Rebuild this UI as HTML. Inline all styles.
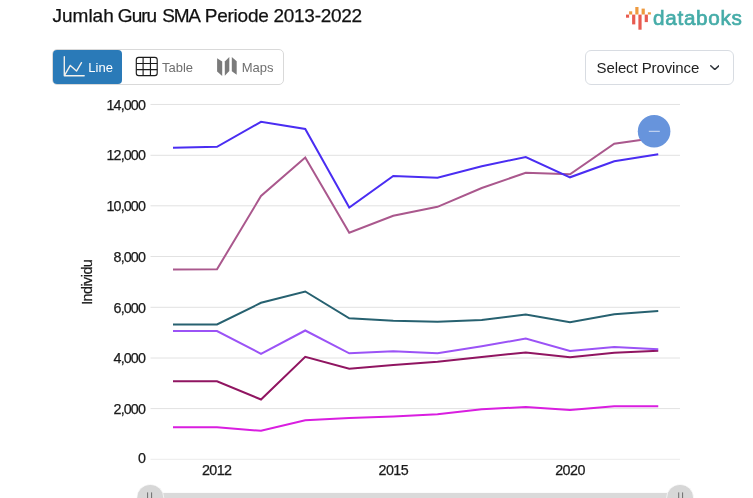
<!DOCTYPE html>
<html>
<head>
<meta charset="utf-8">
<title>Jumlah Guru SMA Periode 2013-2022</title>
<style>
  html, body { margin: 0; padding: 0; background: #ffffff; }
  body { width: 753px; height: 498px; overflow: hidden; position: relative;
         font-family: "Liberation Sans", sans-serif; color: #111; }
  #wrap { position: absolute; left: 0; top: 0; width: 753px; height: 498px; will-change: transform; }
  .title { position: absolute; left: 52px; top: 5px; font-size: 19px; color: #111; white-space: nowrap; }
  .title span { position: absolute; top: 0; -webkit-text-stroke: 0.25px #111; }
  .logo { position: absolute; left: 620px; top: 0; width: 133px; height: 35px; }
  .tabs { position: absolute; left: 52px; top: 49px; width: 230px; height: 34px;
          border: 1px solid #d9d9d9; border-radius: 5px; background: #fff; }
  .tab { position: absolute; top: 0; height: 34px; font-size: 13px; line-height: 34px; color: #6f6f6f; white-space: nowrap; }
  .tab.active { left: 0; width: 69px; background: #2a7ab8; border-radius: 4px; color: #fff; }
  .tab svg { position: absolute; }
  .tab span { position: absolute; top: 1px; }
  .select { position: absolute; left: 585px; top: 50px; width: 147px; height: 33px;
            border: 1px solid #d8dce2; border-radius: 6px; background: #fff; }
  .select span { position: absolute; left: 10.5px; letter-spacing: -0.1px; top: 0; line-height: 34px; font-size: 15px; color: #222; white-space: nowrap; }
  .select svg { position: absolute; left: 123.6px; top: 14px; }
  .chart { position: absolute; left: 0; top: 0; width: 753px; height: 498px; }
  .chart text { font-family: "Liberation Sans", sans-serif; font-size: 14.3px; fill: #1a1a1a; stroke: #1a1a1a; stroke-width: 0.25px; }
</style>
</head>
<body>
<div id="wrap">

<svg class="chart" width="753" height="498" viewBox="0 0 753 498">
  <!-- grid lines -->
  <g stroke="#e2e2e2" stroke-width="1" fill="none">
    <line x1="150.5" x2="680" y1="104.45" y2="104.45"/>
    <line x1="150.5" x2="680" y1="155.3" y2="155.3"/>
    <line x1="150.5" x2="680" y1="205.8" y2="205.8"/>
    <line x1="150.5" x2="680" y1="256.5" y2="256.5"/>
    <line x1="150.5" x2="680" y1="307.3" y2="307.3"/>
    <line x1="150.5" x2="680" y1="358.0" y2="358.0"/>
    <line x1="150.5" x2="680" y1="408.6" y2="408.6"/>
    <line x1="150.5" x2="680" y1="459.3" y2="459.3" stroke="#ececec"/>
  </g>
  <!-- y labels -->
  <g text-anchor="end" letter-spacing="-0.88">
    <text x="145" y="109.5">14,000</text>
    <text x="145" y="160.3">12,000</text>
    <text x="145" y="211">10,000</text>
    <text x="145" y="261.7">8,000</text>
    <text x="145" y="312.5">6,000</text>
    <text x="145" y="363.2">4,000</text>
    <text x="145" y="413.8">2,000</text>
    <text x="145" y="463.3">0</text>
  </g>
  <text transform="translate(91.8,282.3) rotate(-90)" text-anchor="middle" letter-spacing="-0.52">Individu</text>
  <!-- x labels -->
  <g text-anchor="middle" letter-spacing="-0.55">
    <text x="216.7" y="474.7">2012</text>
    <text x="393.3" y="474.7">2015</text>
    <text x="570" y="474.7">2020</text>
  </g>
  <!-- series -->
  <g fill="none" stroke-width="2" stroke-linejoin="miter" stroke-linecap="butt">
    <polyline stroke="#d91ee0" points="173,427.3 217,427.3 261,430.8 305.25,420.3 349.25,418 393.25,416.5 437.5,414.3 481.75,409.3 525.75,407 570,410 614.25,406.3 658.25,406.3"/>
    <polyline stroke="#901561" points="173,381.3 217,381.3 261,399.5 305.25,356.8 349.25,368.8 393.25,365 437.5,361.8 481.75,357 525.75,352.5 570,357.3 614.25,352.8 658.25,350.8"/>
    <polyline stroke="#9b53f6" points="173,331 217,331 261,353.8 305.25,330.5 349.25,353.3 393.25,351.3 437.5,353.3 481.75,346.3 525.75,338.5 570,351 614.25,347 658.25,349.3"/>
    <polyline stroke="#276170" points="173,324.5 217,324.5 261,302.8 305.25,291.5 349.25,318.3 393.25,320.8 437.5,321.8 481.75,320 525.75,314.5 570,322.3 614.25,314.3 658.25,311"/>
    <polyline stroke="#aa588d" points="173,269.5 217,269.3 261,196 305.25,157.5 349.25,232.8 393.25,215.8 437.5,206.8 481.75,188 525.75,172.8 570,174.3 614.25,143.8 658.25,137.5"/>
    <polyline stroke="#4a2df2" points="173,147.8 217,146.8 261,121.8 305.25,129 349.25,207.5 393.25,176 437.5,177.8 481.75,166.3 525.75,157 570,177.3 614.25,161.3 658.25,154.3"/>
  </g>
  <!-- zoom-out button -->
  <circle cx="654.1" cy="131.3" r="16.3" fill="#6794dc"/>
  <rect x="648.8" y="130.8" width="11" height="1" fill="#ffffff" opacity="0.7"/>
  <!-- scrollbar -->
  <rect x="150" y="492.9" width="530" height="8" fill="#dadada"/>
  <circle cx="150.3" cy="497.9" r="13.5" fill="#d7d7d7" stroke="#ffffff" stroke-opacity="0.75" stroke-width="0.9"/>
  <circle cx="680.1" cy="497.9" r="13.5" fill="#d7d7d7" stroke="#ffffff" stroke-opacity="0.75" stroke-width="0.9"/>
  <g stroke="#6e6e6e" stroke-width="1">
    <line x1="147.6" x2="147.6" y1="492.4" y2="498"/>
    <line x1="151.6" x2="151.6" y1="492.4" y2="498"/>
    <line x1="678.7" x2="678.7" y1="492.4" y2="498"/>
    <line x1="682.6" x2="682.6" y1="492.4" y2="498"/>
  </g>
</svg>

<div class="title"><span style="left:0.5px">Jumlah</span><span style="left:65.8px;letter-spacing:-0.95px">Guru</span><span style="left:110.3px;letter-spacing:-1.25px">SMA</span><span style="left:152.8px;letter-spacing:-0.25px">Periode</span><span style="left:221.5px;letter-spacing:-0.28px">2013-2022</span></div>

<svg class="logo" width="133" height="35" viewBox="620 0 133 35">
  <g fill="#ee9a3f">
    <rect x="629.1" y="11.3" width="3.1" height="3.2"/>
    <rect x="635.3" y="7" width="3.2" height="7.5"/>
    <rect x="641.6" y="8.6" width="3.2" height="5.9"/>
    <rect x="647.9" y="12.3" width="3" height="2.2"/>
  </g>
  <g fill="#e85b50">
    <rect x="626" y="14.6" width="3.1" height="3.1"/>
    <rect x="632.1" y="14.6" width="3.2" height="9.8"/>
    <rect x="638.4" y="14.6" width="3.2" height="15.1"/>
    <rect x="644.7" y="14.6" width="3.2" height="7.5"/>
  </g>
  <text transform="translate(653,25.15) scale(1.004,1.02)" font-family="Liberation Sans, sans-serif" font-size="20.6" fill="#45aca8" stroke="#45aca8" stroke-width="0.7" letter-spacing="0.72">databoks</text>
</svg>

<div class="tabs">
  <div class="tab active">
    <svg width="24" height="24" viewBox="0 0 24 24" style="left:9px;top:5px" fill="none" stroke="#f4f1ec" stroke-width="1.35" stroke-linecap="round" stroke-linejoin="round">
      <path d="M2.3 1.7 V20.7 H22.2"/>
      <path d="M3.1 19.3 L8.3 10.4 L14.5 16.1 L19.5 7.6"/>
    </svg>
    <span style="left:35.3px">Line</span>
  </div>
  <div class="tab" style="left:82px;width:70px">
    <svg width="24" height="22" viewBox="0 0 24 22" style="left:0px;top:6px" fill="none" stroke="#1c1c1c" stroke-width="1.15">
      <rect x="1.3" y="1.4" width="20.9" height="18.2" rx="2.4"/>
      <path d="M8.1 1.4 V19.6 M15.45 1.4 V19.6 M1.3 7.45 H22.2 M1.3 13.6 H22.2"/>
    </svg>
    <span style="left:27px">Table</span>
  </div>
  <div class="tab" style="left:163px;width:66px">
    <svg width="22" height="22" viewBox="216 55 22 22" style="left:0px;top:5px" fill="#7a7a7a">
      <polygon points="217.1,58.3 222.2,61.6 222.2,76.1 217.1,71.6"/>
      <polygon points="224.8,61.6 229.3,57.1 229.3,70.9 224.8,75.7"/>
      <polygon points="231.8,57.1 236.7,61.2 236.7,74.7 231.8,71.2"/>
    </svg>
    <span style="left:25.7px">Maps</span>
  </div>
</div>

<div class="select">
  <span>Select Province</span>
  <svg width="9.6" height="5.4" viewBox="0 0 9.6 5.4" fill="none" stroke="#30353b" stroke-width="1.5" stroke-linecap="round" stroke-linejoin="round">
    <path d="M0.75 0.8 L4.8 4.55 L8.85 0.8"/>
  </svg>
</div>

</div>
</body>
</html>
